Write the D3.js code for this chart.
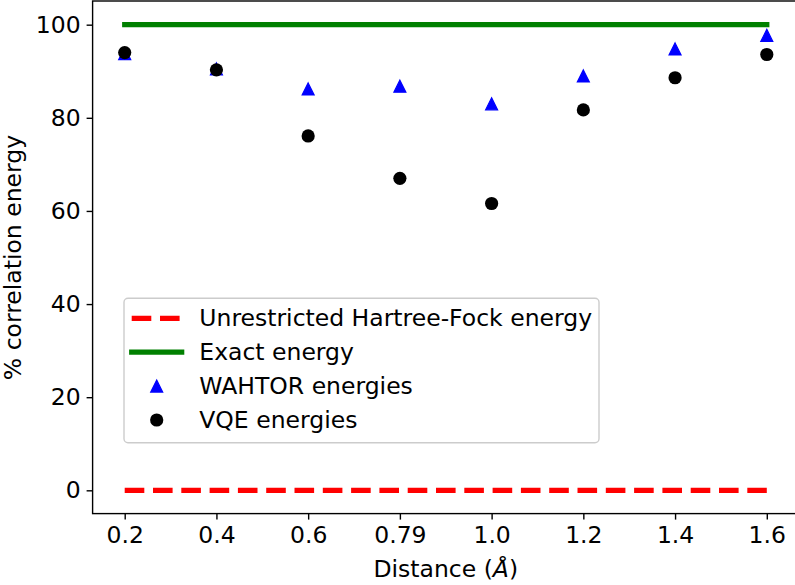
<!DOCTYPE html>
<html lang="en">

<head>
    <meta charset="UTF-8">
    <title>Correlation energy</title>
    <script src="https://d3js.org/d3.v7.min.js"></script>
    <style>
        body {
            margin: 0;
            background: #fff;
        }

        svg text {
            font-family: "DejaVu Sans", sans-serif;
            font-size: 23.5px;
            fill: #000;
        }
    </style>
</head>

<body>
    <svg width="795" height="585"></svg>

    <script>
        // data
        const distanceLabels = ["0.2", "0.4", "0.6", "0.79", "1.0", "1.2", "1.4", "1.6"];
        const uhfEnergies = [0, 0, 0, 0, 0, 0, 0, 0];
        const exactEnergies = [100, 100, 100, 100, 100, 100, 100, 100];
        const wahtorEnergies = [93.8, 90.5, 86.2, 86.8, 83.0, 89.0, 94.8, 97.7];
        const vqeEnergies = [94.0, 90.3, 76.1, 67.0, 61.6, 81.7, 88.6, 93.6];
        const yTicks = [0, 20, 40, 60, 80, 100];
        const legendLabels = ["Unrestricted Hartree-Fock energy", "Exact energy", "WAHTOR energies", "VQE energies"];

        const svg = d3.select("svg");
        const plotLeft = 92.6, plotRight = 798.9, plotTop = 1.4, plotBottom = 513.6;
        const fontSize = "23.5px";

        const x = d3.scalePoint()
            .domain(distanceLabels)
            .range([plotLeft, plotRight])
            .padding(0.35);

        const y = d3.scaleLinear()
            .domain([-5, 105])
            .range([plotBottom, plotTop]);

        const line = d3.line()
            .x((d, i) => x(distanceLabels[i]))
            .y(d => y(d));

        // lines
        svg.append("path")
            .datum(uhfEnergies)
            .attr("d", line)
            .attr("fill", "none")
            .attr("stroke", "#ff0000")
            .attr("stroke-width", 5.2)
            .attr("stroke-dasharray", "19.6,8.7");

        svg.append("path")
            .datum(exactEnergies)
            .attr("d", line)
            .attr("fill", "none")
            .attr("stroke", "#008000")
            .attr("stroke-width", 5.2)
            .attr("stroke-linecap", "square");

        const tri = s => `M0,${-s / 2}L${s / 2},${s / 2}L${-s / 2},${s / 2}Z`;

        svg.append("g").selectAll("path")
            .data(wahtorEnergies)
            .enter()
            .append("path")
            .attr("d", tri(12))
            .attr("transform", (d, i) => `translate(${x(distanceLabels[i])},${y(d)})`)
            .attr("fill", "#0000ff")
            .attr("stroke", "#0000ff")
            .attr("stroke-width", 1.2);

        svg.append("g").selectAll("circle")
            .data(vqeEnergies)
            .enter()
            .append("circle")
            .attr("cx", (d, i) => x(distanceLabels[i]))
            .attr("cy", d => y(d))
            .attr("r", 6.6)
            .attr("fill", "#000");

        // axes frame
        svg.append("rect")
            .attr("x", plotLeft)
            .attr("y", plotTop - 0.4)
            .attr("width", plotRight - plotLeft)
            .attr("height", plotBottom - plotTop + 0.4)
            .attr("fill", "none")
            .attr("stroke", "#000")
            .attr("stroke-width", 1.4);

        const xAxis = svg.append("g")
            .attr("transform", `translate(0,${plotBottom})`)
            .call(d3.axisBottom(x).tickSize(6).tickPadding(7));
        const yAxis = svg.append("g")
            .attr("transform", `translate(${plotLeft},0)`)
            .call(d3.axisLeft(y).tickValues(yTicks).tickSize(6).tickPadding(6));

        [xAxis, yAxis].forEach(a => {
            a.select(".domain").remove();
            a.selectAll(".tick line").attr("stroke", "#000").attr("stroke-width", 1.4);
            a.selectAll(".tick text")
                .style("font-family", "DejaVu Sans, sans-serif")
                .style("font-size", fontSize)
                .attr("fill", "#000");
        });

        // axis labels
        const xl = svg.append("text")
            .attr("x", (plotLeft + plotRight) / 2)
            .attr("y", 576.7)
            .attr("text-anchor", "middle");
        xl.append("tspan").text("Distance (");
        xl.append("tspan").attr("font-style", "italic").text("Å");
        xl.append("tspan").text(")");

        svg.append("text")
            .attr("transform", `translate(21,${(plotTop + plotBottom) / 2}) rotate(-90)`)
            .attr("text-anchor", "middle")
            .text("% correlation energy");

        // legend
        const legend = svg.append("g");
        legend.append("rect")
            .attr("x", 124)
            .attr("y", 298.3)
            .attr("width", 475)
            .attr("height", 144.4)
            .attr("rx", 4)
            .attr("fill", "#fff")
            .attr("fill-opacity", 0.8)
            .attr("stroke", "#cccccc")
            .attr("stroke-width", 1.4);

        const rowY = d3.scaleLinear().domain([0, 3]).range([318.3, 420]);
        const hx0 = 131.7, hx1 = 181.7, hxm = 156.7;

        legend.append("line")
            .attr("x1", hx0).attr("x2", hx1)
            .attr("y1", rowY(0)).attr("y2", rowY(0))
            .attr("stroke", "#ff0000")
            .attr("stroke-width", 5.2)
            .attr("stroke-dasharray", "19.6,8.7");
        legend.append("line")
            .attr("x1", hx0).attr("x2", hx1)
            .attr("y1", rowY(1)).attr("y2", rowY(1))
            .attr("stroke", "#008000")
            .attr("stroke-width", 5.2)
            .attr("stroke-linecap", "square");
        legend.append("path")
            .attr("d", tri(12))
            .attr("transform", `translate(${hxm},${rowY(2)})`)
            .attr("fill", "#0000ff")
            .attr("stroke", "#0000ff")
            .attr("stroke-width", 1.2);
        legend.append("circle")
            .attr("cx", hxm)
            .attr("cy", rowY(3))
            .attr("r", 6.6)
            .attr("fill", "#000");

        legend.selectAll("text")
            .data(legendLabels)
            .enter()
            .append("text")
            .attr("x", 199.3)
            .attr("y", (d, i) => rowY(i) + 7.8)
            .text(d => d);
    </script>
</body>

</html>
